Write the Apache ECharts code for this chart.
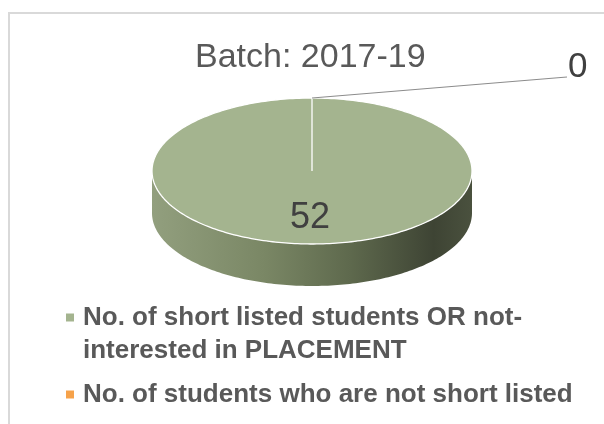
<!DOCTYPE html>
<html>
<head>
<meta charset="utf-8">
<script src="https://cdn.jsdelivr.net/npm/echarts@6/dist/echarts.min.js"></script>
<style>
html, body { margin: 0; padding: 0; background: #fff; }
#chart { width: 604px; height: 424px; }
</style>
</head>
<body>
<div id="chart"></div>
<script>
var titleText = 'Batch: 2017-19';
var categories = [
    'No. of short listed students OR not-interested in PLACEMENT',
    'No. of students who are not short listed'
];
var values = [52, 0];
var colors = ['#a4b48f', '#f6a24a'];

var total = values.reduce(function (s, v) { return s + v; }, 0);
var starts = [];
var acc = 0;
for (var i = 0; i < values.length; i++) {
    starts.push(acc);
    acc += values[i];
}

// 3d pie geometry (top face ellipse + wall depth)
var CX = 312, CY = 171, RX = 160, RY = 73, DEPTH = 42;
var FONT = '"Liberation Sans", Arial, sans-serif';

var sideFill = {
    type: 'linear', x: CX - RX, y: 0, x2: CX + RX, y2: 0, global: true,
    colorStops: [
        { offset: 0, color: '#929f7e' },
        { offset: 0.35, color: '#7a8765' },
        { offset: 0.62, color: '#5e694d' },
        { offset: 0.88, color: '#3e4434' },
        { offset: 1, color: '#4a513e' }
    ]
};

function pt(a, dy) {
    return [CX + RX * Math.cos(a), CY + RY * Math.sin(a) + (dy || 0)];
}

function arc(a0, a1, dy) {
    var n = Math.max(2, Math.ceil(Math.abs(a1 - a0) / 0.02));
    var pts = [];
    for (var k = 0; k <= n; k++) {
        pts.push(pt(a0 + (a1 - a0) * k / n, dy));
    }
    return pts;
}

function toAngle(v) {
    return -Math.PI / 2 + v / total * Math.PI * 2;
}

function renderSlice(params, api) {
    var idx = params.seriesIndex;
    var v = api.value(0);
    var a0 = toAngle(starts[idx]);
    var a1 = toAngle(starts[idx] + v);
    var children = [];

    // front wall
    var lo = Math.max(a0, 0), hi = Math.min(a1, Math.PI);
    if (hi > lo) {
        children.push({
            type: 'polygon',
            shape: { points: arc(lo, hi, 0).concat(arc(hi, lo, DEPTH)) },
            style: { fill: sideFill }
        });
    }
    // top face
    if (a1 > a0) {
        children.push({
            type: 'polygon',
            shape: { points: [[CX, CY]].concat(arc(a0, a1, 0)) },
            style: { fill: colors[idx], stroke: '#ffffff', lineWidth: 1.3 }
        });
    }

    var mid = (a0 + a1) / 2;
    if (v > 0) {
        children.push({
            type: 'text',
            style: {
                x: CX + 0.62 * RX * Math.cos(mid) - 2,
                y: CY + 0.62 * RY * Math.sin(mid) + 2,
                text: String(v),
                font: '36px ' + FONT,
                fill: '#404040',
                align: 'center',
                verticalAlign: 'middle'
            }
        });
    } else {
        var p = pt(mid, 0);
        var end = [p[0] + 255, p[1] - 21];
        children.push({
            type: 'line',
            shape: { x1: p[0], y1: p[1], x2: end[0], y2: end[1] },
            style: { stroke: '#8c8c8c', lineWidth: 1.2 }
        });
        children.push({
            type: 'text',
            style: {
                x: end[0] + 1,
                y: end[1] - 10,
                text: String(v),
                font: '35px ' + FONT,
                fill: '#404040',
                align: 'left',
                verticalAlign: 'middle'
            }
        });
    }
    return { type: 'group', children: children };
}

var series = categories.map(function (name, i) {
    return {
        name: name,
        type: 'custom',
        coordinateSystem: 'none',
        renderItem: renderSlice,
        itemStyle: { color: colors[i] },
        data: [[values[i]]]
    };
});

var chart = echarts.init(document.getElementById('chart'));
chart.setOption({
    animation: false,
    title: {
        text: titleText,
        left: 195,
        top: 41,
        padding: 0,
        textStyle: { fontFamily: FONT, fontSize: 34, fontWeight: 'normal', color: '#595959' }
    },
    legend: {
        orient: 'vertical',
        left: 66,
        top: 268,
        padding: 0,
        itemGap: 11,
        itemWidth: 8,
        itemHeight: 8,
        icon: 'rect',
        selectedMode: false,
        // blank first line keeps the marker level with the first text line
        formatter: function (name) {
            return name.indexOf('not-') >= 0 ? '\n' + name.replace('not-', 'not-\n') : name;
        },
        textStyle: {
            fontFamily: FONT, fontSize: 26, fontWeight: 'bold', color: '#595959',
            lineHeight: 33, padding: [0, 0, 0, 4]
        },
        data: categories
    },
    graphic: [{
        type: 'rect',
        silent: true,
        z: -10,
        shape: { x: 9, y: 13, width: 800, height: 600 },
        style: { fill: 'transparent', stroke: '#d9d9d9', lineWidth: 2 }
    }],
    series: series
});
</script>
</body>
</html>
